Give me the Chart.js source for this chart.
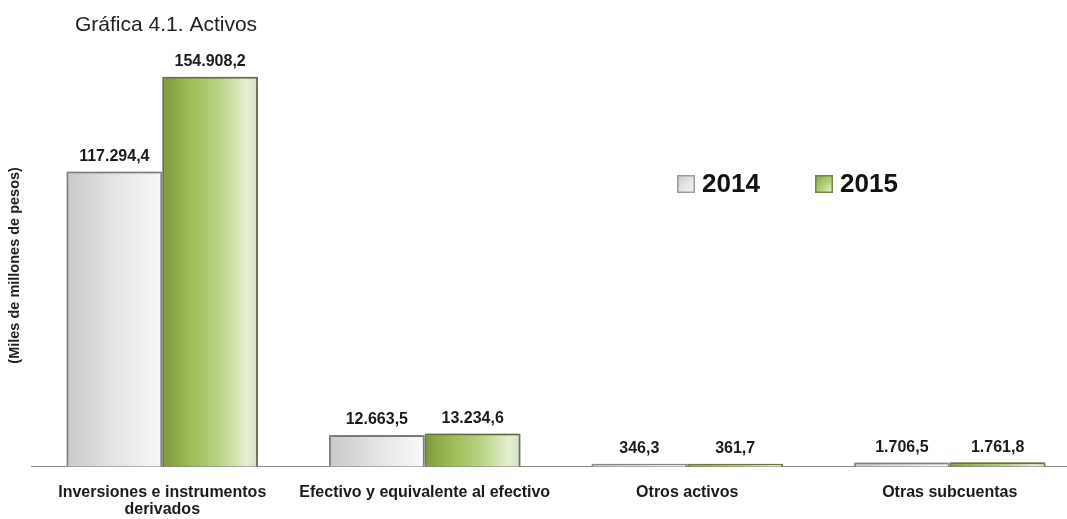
<!DOCTYPE html>
<html>
<head>
<meta charset="utf-8">
<script src="https://cdn.jsdelivr.net/npm/chart.js@4.4.1/dist/chart.umd.min.js"></script>
<style>
  html, body { margin: 0; padding: 0; background: #fff; overflow: hidden; }
  #wrap { width: 1081px; height: 519px; }
</style>
</head>
<body>
<div id="wrap"><canvas id="myChart" width="1081" height="519"></canvas></div>
<script>
// Chart data
const categories = [['Inversiones e instrumentos', 'derivados'], 'Efectivo y equivalente al efectivo', 'Otros activos', 'Otras subcuentas'];
const seriesNames = ['2014', '2015'];
const values2014 = [117294.4, 12663.5, 346.3, 1706.5];
const values2015 = [154908.2, 13234.6, 361.7, 1761.8];
const chartTitle = 'Gráfica 4.1. Activos';
const yTitle = '(Miles de millones de pesos)';

const FONT = '"Liberation Sans", Arial, sans-serif';
const catPct = 0.73;

const grayStops = [[0, '#c9c9c9'], [0.5, '#e4e4e4'], [1, '#f8f8f8']];
const greenStops = [[0, '#7d9a3a'], [0.3, '#9fbd58'], [0.6, '#b9d486'], [0.88, '#e4f0cf'], [1, '#d3dcc0']];

// horizontal gradient over one bar, placed with the x scale
function barGradient(context, stops) {
    const chart = context.chart;
    const xs = chart.scales.x;
    if (!xs || !xs.width) return stops[1][1];
    const center = xs.getPixelForValue(context.dataIndex);
    const w = xs.width / categories.length * catPct / 2;
    const left = context.datasetIndex === 0 ? center - w : center;
    const g = chart.ctx.createLinearGradient(left, 0, left + w, 0);
    stops.forEach(s => g.addColorStop(s[0], s[1]));
    return g;
}

function fmt(v) {
    const parts = v.toFixed(1).split('.');
    const intPart = parts[0].replace(/\B(?=(\d{3})+(?!\d))/g, '.');
    return intPart + ',' + parts[1];
}

const extrasPlugin = {
    id: 'extras',
    beforeDatasetsDraw(chart) {
        chart.ctx.save();
        chart.ctx.shadowColor = 'rgba(0,0,0,0.28)';
        chart.ctx.shadowBlur = 4;
        chart.ctx.shadowOffsetX = 0;
        chart.ctx.shadowOffsetY = -1;
    },
    afterDatasetsDraw(chart) {
        const ctx = chart.ctx;
        ctx.restore();
        ctx.save();
        // value labels
        ctx.font = 'bold 16px ' + FONT;
        ctx.fillStyle = '#1a1a1a';
        ctx.textAlign = 'center';
        ctx.textBaseline = 'bottom';
        chart.data.datasets.forEach((ds, di) => {
            chart.getDatasetMeta(di).data.forEach((bar, i) => {
                ctx.fillText(fmt(ds.data[i]), bar.x, bar.y - 7);
            });
        });
        // title
        ctx.font = '21px ' + FONT;
        ctx.fillStyle = '#222';
        ctx.textAlign = 'left';
        ctx.textBaseline = 'middle';
        ctx.fillText(chartTitle, 75, 25);
        // y axis title
        ctx.save();
        ctx.translate(15, (chart.chartArea.top + chart.chartArea.bottom) / 2);
        ctx.rotate(-Math.PI / 2);
        ctx.font = 'bold 14.5px ' + FONT;
        ctx.textAlign = 'center';
        ctx.fillText(yTitle, 0, 0);
        ctx.restore();
        // legend
        const legendX = [677, 815];
        const legendStops = [grayStops, greenStops];
        const legendBorder = ['#9a9a9a', '#6f8040'];
        ctx.font = 'bold 26px ' + FONT;
        ctx.textBaseline = 'middle';
        seriesNames.forEach((name, k) => {
            const x = legendX[k], y = 175, s = 18;
            const g = ctx.createLinearGradient(x, y, x + s, y + s);
            legendStops[k].forEach(st => g.addColorStop(st[0], st[1]));
            ctx.fillStyle = g;
            ctx.fillRect(x, y, s, s);
            ctx.strokeStyle = legendBorder[k];
            ctx.lineWidth = 1.5;
            ctx.strokeRect(x + 0.75, y + 0.75, s - 1.5, s - 1.5);
            ctx.fillStyle = '#111';
            ctx.fillText(name, x + 25, y + s / 2 + 1);
        });
        ctx.restore();
    }
};

const ctx = document.getElementById('myChart').getContext('2d');
window.myChart = new Chart(ctx, {
    type: 'bar',
    data: {
        labels: categories,
        datasets: [{
            label: seriesNames[0],
            data: values2014,
            backgroundColor: c => barGradient(c, grayStops),
            borderColor: '#8c8c8c',
            borderWidth: 2,
            minBarLength: 3
        }, {
            label: seriesNames[1],
            data: values2015,
            backgroundColor: c => barGradient(c, greenStops),
            borderColor: '#6f7f45',
            borderWidth: 2,
            minBarLength: 3
        }]
    },
    options: {
        responsive: false,
        animation: false,
        datasets: {
            bar: { categoryPercentage: catPct, barPercentage: 1 }
        },
        layout: {
            padding: { left: 31, right: 0, top: 64, bottom: -8 }
        },
        plugins: {
            legend: { display: false },
            title: { display: false },
            tooltip: { enabled: false }
        },
        scales: {
            x: {
                grid: { display: false },
                border: { display: true, color: '#8a8a8a', width: 1 },
                ticks: {
                    color: '#1a1a1a',
                    font: { family: FONT, size: 16, weight: 'bold', lineHeight: 1.07 },
                    padding: 9,
                    maxRotation: 0,
                    autoSkip: false
                }
            },
            y: {
                display: false,
                min: 0,
                max: 160000
            }
        }
    },
    plugins: [extrasPlugin]
});
</script>
</body>
</html>
